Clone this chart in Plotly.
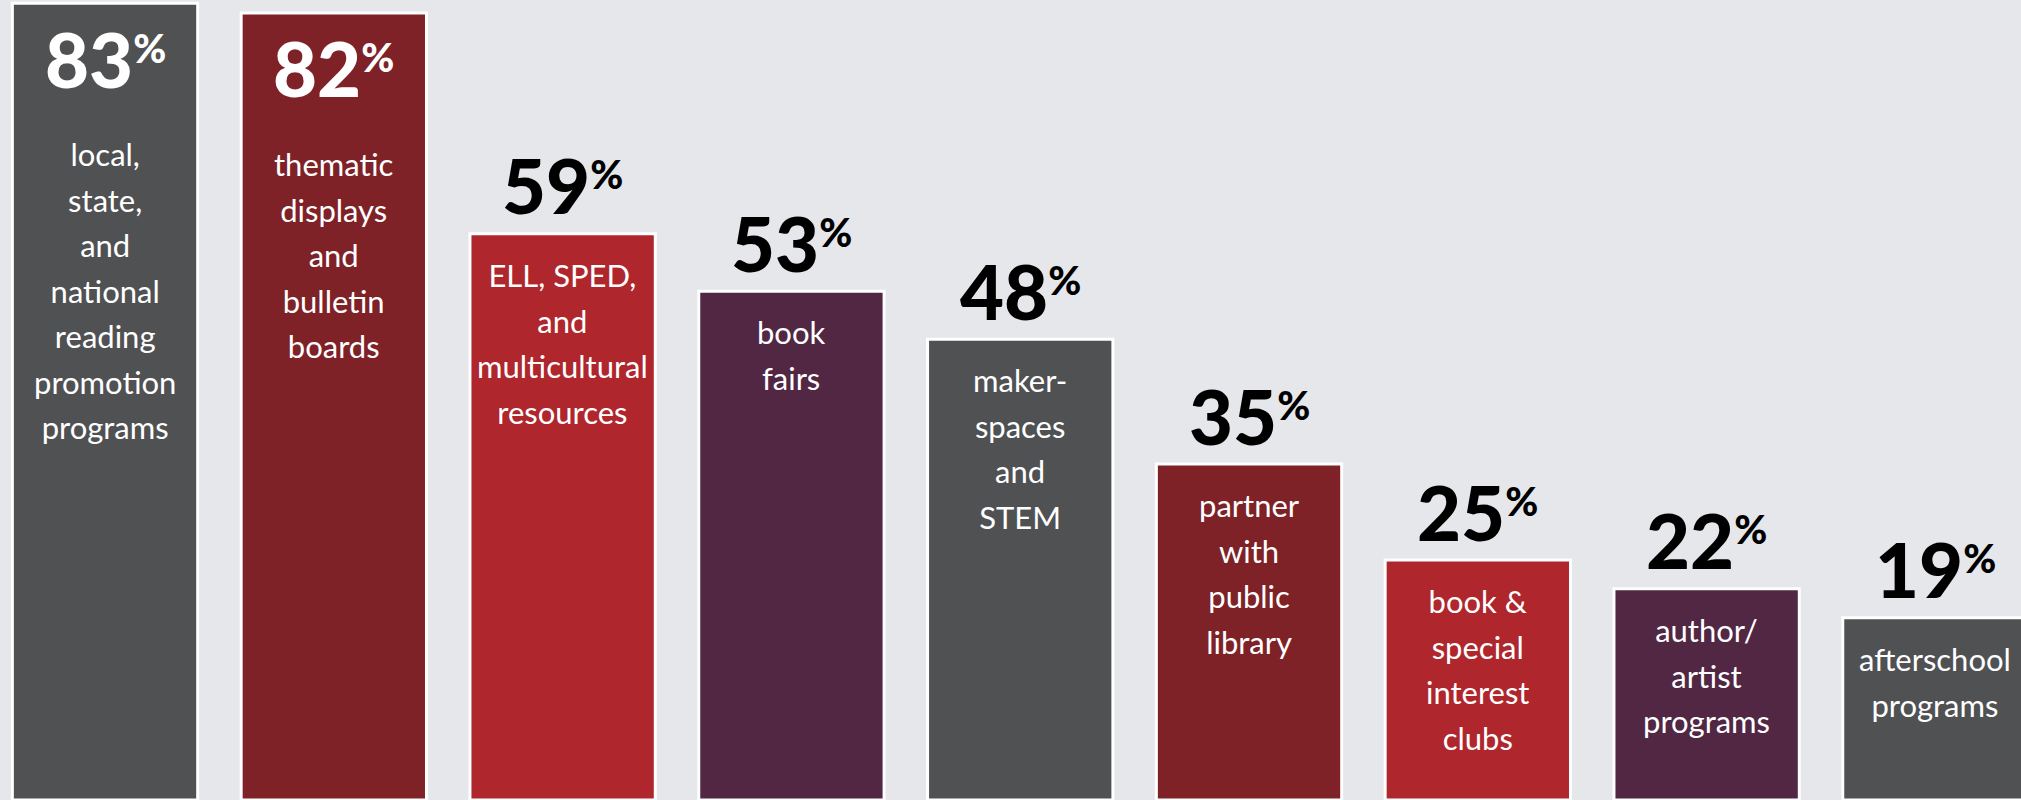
import plotly.graph_objects as go

categories = [
    "local,<br>state,<br>and<br>national<br>reading<br>promotion<br>programs",
    "thematic<br>displays<br>and<br>bulletin<br>boards",
    "ELL, SPED,<br>and<br>multicultural<br>resources",
    "book<br>fairs",
    "maker-<br>spaces<br>and<br>STEM",
    "partner<br>with<br>public<br>library",
    "book &<br>special<br>interest<br>clubs",
    "author/<br>artist<br>programs",
    "afterschool<br>programs",
]
values = [83, 82, 59, 53, 48, 35, 25, 22, 19]
palette = ["#505153", "#7e2227", "#af262d", "#512743"]

BG = "#e6e7eb"
colors = [palette[i % len(palette)] for i in range(len(values))]
xs = list(range(len(values)))

fig = go.Figure()
fig.add_trace(go.Bar(
    x=xs, y=values,
    marker=dict(color=colors, line=dict(color="white", width=3)),
    width=0.81,
    hoverinfo="skip",
))


def pct_html(v):
    return (f"<span style='font-size:76px'>{v}</span>"
            f"<sup><span style='font-size:40px'>%</span></sup>")


def label_html(lab):
    return "<br>".join(f"<span style='font-size:31px'>{ln}</span>" for ln in lab.split("<br>"))


annotations = []
for i, (v, lab) in enumerate(zip(values, categories)):
    inside = v > 75
    pct_color = "white" if inside else "black"
    annotations.append(dict(
        x=i, y=v, xref="x", yref="y",
        text=pct_html(v),
        showarrow=False,
        yanchor="middle",
        yshift=-55 if inside else 49,
        font=dict(family="Lato", size=60, color=pct_color, weight=900),
    ))
    annotations.append(dict(
        x=i, y=v, xref="x", yref="y",
        text=label_html(lab),
        showarrow=False,
        yanchor="top",
        yshift=-130 if inside else -20,
        font=dict(family="Lato", size=35, color="white"),
    ))

fig.update_layout(
    width=2021, height=800,
    margin=dict(l=0, r=0, t=0, b=0),
    paper_bgcolor=BG, plot_bgcolor=BG,
    showlegend=False,
    xaxis=dict(range=[-0.459, 8.374], visible=False, fixedrange=True),
    yaxis=dict(range=[0, 83.35], visible=False, fixedrange=True),
    annotations=annotations,
)

fig.write_html(
    "out.html",
    config={"displayModeBar": False},
    post_script="document.body.style.margin='0';document.body.style.background='%s';" % BG,
)
